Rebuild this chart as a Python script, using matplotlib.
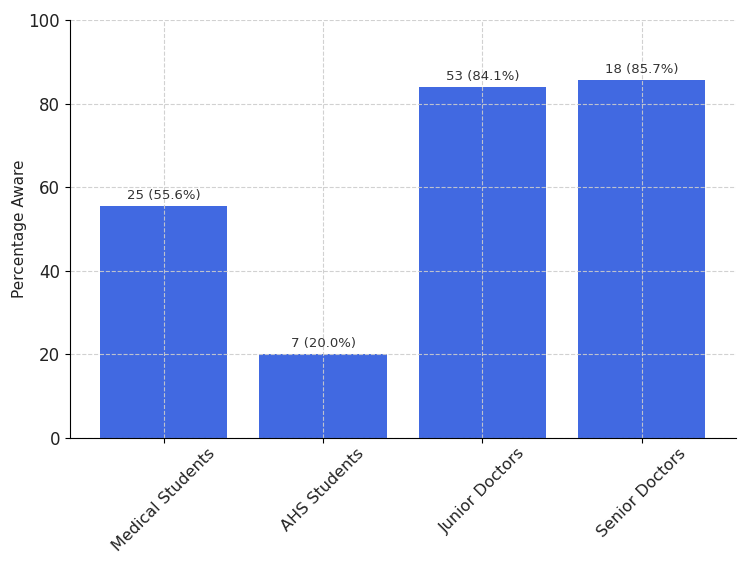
import matplotlib
matplotlib.use("Agg")
import matplotlib.pyplot as plt

categories = ["Medical Students", "AHS Students", "Junior Doctors", "Senior Doctors"]
counts = [25, 7, 53, 18]
percentages = [55.6, 20.0, 84.1, 85.7]

fig, ax = plt.subplots(figsize=(7.5, 5.63), dpi=100)
bars = ax.bar(categories, percentages, color="royalblue", width=0.8)
for bar, n, p in zip(bars, counts, percentages):
    ax.text(bar.get_x() + bar.get_width() / 2, p + 1, f"{n} ({p:.1f}%)",
            ha="center", va="bottom", fontsize=9.5, color="#333333")

ax.set_ylim(0, 100)
ax.set_ylabel("Percentage Aware", fontsize=11, color="#222222", labelpad=1)
ax.tick_params(axis="y", labelsize=12, labelcolor="#222222")
ax.tick_params(axis="x", labelsize=11.5, labelcolor="#222222", pad=2)
plt.setp(ax.get_xticklabels(), rotation=45)
ax.grid(True, linestyle="--", color="#cccccc", alpha=0.9, linewidth=0.8)
ax.spines[["top", "right"]].set_visible(False)

fig.subplots_adjust(left=0.093, right=0.981, top=0.964, bottom=0.222)
fig.savefig("out.png", dpi=100)
